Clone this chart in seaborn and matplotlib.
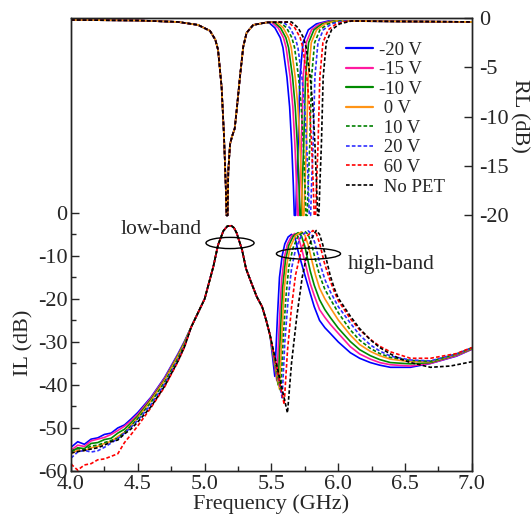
import matplotlib
matplotlib.use('Agg')
import pandas as pd
import seaborn as sns
import matplotlib.pyplot as plt
from matplotlib.patches import Ellipse
from matplotlib.lines import Line2D

#%% data
labels = ['-20 V', '-15 V', '-10 V', ' 0 V', ' 10 V', ' 20 V', ' 60 V', ' No PET']
colors = ['#0000ff', '#ff1aa0', '#008a00', '#ff9416', '#008000', '#2f2fff', '#ff0000', '#000000']
dotted = [False, False, False, False, True, True, True, True]

# IL, low-frequency skirt (per series, shared grid)
skirt_f = [4.0, 4.05, 4.1, 4.15, 4.2, 4.25, 4.3, 4.35, 4.4, 4.45, 4.5, 4.6, 4.7, 4.8, 4.85]
skirt_m20 = [-54.5, -53.2, -53.8, -52.6, -52.3, -51.5, -51.2, -50.0, -49.3, -47.9, -46.4, -42.8, -38.3, -32.8, -29.8]
skirt_m15 = [-55.2, -54.0, -54.3, -53.0, -52.6, -52.2, -51.5, -50.6, -49.6, -48.3, -46.8, -43.0, -38.5, -33.0, -30.0]
skirt_m10 = [-55.6, -54.6, -54.8, -53.6, -53.4, -52.7, -52.4, -51.2, -50.3, -48.8, -47.2, -43.3, -38.8, -33.2, -30.1]
skirt_0 = [-56.0, -55.2, -55.3, -54.6, -54.3, -53.6, -53.1, -52.0, -51.0, -49.3, -47.6, -43.6, -39.0, -33.4, -30.3]
skirt_10 = [-55.4, -54.8, -55.0, -54.2, -54.0, -53.4, -52.9, -52.4, -51.0, -49.5, -47.8, -44.0, -39.4, -33.8, -30.6]
skirt_20 = [-57.0, -55.6, -55.2, -55.6, -55.3, -54.5, -53.5, -52.5, -51.2, -49.8, -48.2, -44.5, -39.8, -34.2, -30.9]
skirt_60 = [-58.4, -59.8, -58.6, -58.3, -57.4, -57.2, -56.6, -56.0, -53.4, -51.5, -49.5, -45.2, -40.5, -34.6, -31.2]
skirt_nopet = [-55.8, -55.5, -55.2, -54.9, -54.6, -54.0, -53.2, -52.8, -51.4, -50.2, -48.6, -45.0, -40.3, -34.5, -31.1]

# IL, low band (identical for all series)
lowband_f = [4.9, 5.0, 5.065, 5.10, 5.14, 5.17, 5.20, 5.22, 5.24, 5.28, 5.31, 5.35, 5.39, 5.43, 5.46]
lowband_il = [-26.5, -20.0, -12.5, -7.5, -4.2, -3.1, -3.0, -3.5, -4.7, -8.6, -13.0, -16.3, -19.5, -21.8, -24.9]

# IL, notch + high band (freq, dB)
il_hi_m20 = [(5.49, -28.5), (5.525, -38.0), (5.545, -24.0), (5.56, -15.0), (5.58, -10.0), (5.60, -7.2), (5.625, -5.6),
             (5.65, -5.0), (5.675, -5.6), (5.70, -9.0), (5.74, -13.4), (5.79, -18.7), (5.82, -21.8), (5.86, -25.0),
             (5.90, -26.7), (5.94, -28.0), (6.0, -30.0), (6.09, -32.5), (6.16, -33.8), (6.24, -34.8), (6.31, -35.4),
             (6.39, -35.9), (6.54, -35.9), (6.69, -35.0), (6.885, -33.3), (7.0, -31.7)]
il_hi_m15 = [(5.49, -28.5), (5.54, -39.0), (5.56, -25.0), (5.575, -16.0), (5.595, -10.5), (5.62, -7.2), (5.65, -5.4),
             (5.675, -4.8), (5.70, -5.5), (5.725, -8.2), (5.76, -12.6), (5.79, -16.4), (5.82, -19.2), (5.86, -22.5),
             (5.90, -24.3), (5.94, -25.9), (6.0, -28.0), (6.09, -31.1), (6.16, -32.8), (6.24, -34.0), (6.31, -34.8),
             (6.39, -35.3), (6.54, -35.6), (6.69, -35.0), (6.885, -33.2), (7.0, -31.7)]
il_hi_m10 = [(5.49, -28.5), (5.55, -40.0), (5.57, -26.0), (5.585, -17.0), (5.605, -11.0), (5.63, -7.5), (5.665, -5.3),
             (5.70, -4.6), (5.725, -5.4), (5.75, -7.8), (5.79, -13.5), (5.82, -16.8), (5.86, -20.2), (5.90, -22.5),
             (5.94, -24.3), (6.0, -26.8), (6.09, -29.9), (6.16, -31.8), (6.24, -33.2), (6.31, -34.1),
             (6.39, -34.8), (6.54, -35.1), (6.69, -34.8), (6.885, -33.0), (7.0, -31.6)]
il_hi_0 = [(5.49, -28.5), (5.56, -41.0), (5.58, -27.0), (5.595, -18.0), (5.615, -12.0), (5.64, -8.0), (5.68, -5.3),
           (5.725, -4.4), (5.75, -5.2), (5.775, -7.5), (5.80, -10.8), (5.83, -14.5), (5.86, -17.5), (5.90, -20.0),
           (5.94, -22.0), (6.0, -24.9), (6.09, -28.4), (6.16, -30.6), (6.24, -32.2), (6.31, -33.2),
           (6.39, -34.0), (6.54, -34.6), (6.69, -34.6), (6.885, -32.9), (7.0, -31.5)]
il_hi_10 = [(5.49, -28.5), (5.57, -41.5), (5.59, -28.0), (5.61, -19.0), (5.63, -12.5), (5.66, -8.3), (5.70, -5.3),
            (5.75, -4.3), (5.775, -5.0), (5.80, -7.3), (5.83, -11.0), (5.86, -14.5), (5.90, -17.8), (5.94, -20.0),
            (6.0, -23.2), (6.09, -27.2), (6.16, -29.6), (6.24, -31.5), (6.31, -32.7),
            (6.39, -33.6), (6.54, -34.3), (6.69, -34.5), (6.885, -32.8), (7.0, -31.4)]
il_hi_20 = [(5.49, -28.5), (5.58, -43.0), (5.60, -30.0), (5.625, -20.0), (5.65, -13.0), (5.68, -8.5), (5.725, -5.2),
            (5.775, -4.2), (5.80, -4.9), (5.825, -7.0), (5.86, -11.5), (5.90, -15.5), (5.94, -18.3),
            (6.0, -21.8), (6.09, -25.6), (6.16, -28.4), (6.24, -30.7), (6.31, -32.1),
            (6.39, -33.3), (6.54, -34.2), (6.69, -34.4), (6.885, -32.8), (7.0, -31.4)]
il_hi_60 = [(5.49, -28.5), (5.595, -44.5), (5.62, -32.0), (5.65, -22.0), (5.68, -14.5), (5.72, -9.0), (5.76, -5.6),
            (5.81, -4.1), (5.835, -4.8), (5.86, -7.0), (5.895, -11.5), (5.92, -14.0), (5.94, -15.8), (5.97, -18.3),
            (6.0, -20.4), (6.09, -24.6), (6.16, -27.2), (6.24, -29.4), (6.31, -31.0),
            (6.39, -32.3), (6.54, -33.8), (6.69, -33.8), (6.885, -32.7), (7.0, -31.3)]
il_hi_nopet = [(5.49, -28.5), (5.62, -46.5), (5.65, -35.0), (5.69, -24.0), (5.73, -15.0), (5.77, -9.0), (5.80, -6.0),
               (5.835, -4.1), (5.86, -5.0), (5.885, -7.5), (5.92, -12.0), (5.94, -14.6), (5.97, -17.5),
               (6.0, -19.8), (6.09, -24.0), (6.16, -26.9), (6.24, -29.5), (6.31, -31.3), (6.39, -32.8),
               (6.46, -33.9), (6.54, -34.8), (6.69, -35.9), (6.84, -35.6), (7.0, -34.6)]

# RL, low band dip (identical for all series)
rl_low = [(4.0, -0.2), (4.5, -0.25), (4.8, -0.4), (4.95, -0.7), (5.04, -1.3), (5.08, -2.2), (5.10, -3.2), (5.127, -7.0),
          (5.145, -12.0), (5.158, -17.0), (5.164, -20.0), (5.172, -20.0), (5.177, -15.5), (5.19, -12.8), (5.205, -12.0),
          (5.225, -11.2), (5.24, -9.3), (5.264, -6.0), (5.289, -2.9), (5.314, -1.5), (5.364, -0.7), (5.464, -0.45)]

# RL, high band dip (freq, dB)
rl_hi_m20 = [(5.476, -0.4), (5.526, -1.0), (5.566, -2.0), (5.586, -3.0), (5.616, -6.0), (5.636, -9.0), (5.651, -12.7),
             (5.664, -17.0), (5.671, -20.0), (5.681, -20.0), (5.688, -17.0), (5.70, -12.7), (5.713, -6.0),
             (5.736, -2.5), (5.776, -1.2), (5.836, -0.6), (5.926, -0.3)]
rl_hi_m15 = [(5.50, -0.4), (5.55, -1.0), (5.59, -2.0), (5.61, -3.0), (5.64, -6.0), (5.66, -9.0), (5.675, -12.7),
             (5.688, -17.0), (5.695, -20.0), (5.705, -20.0), (5.712, -17.0), (5.724, -12.7), (5.737, -6.0),
             (5.76, -2.5), (5.80, -1.2), (5.86, -0.6), (5.95, -0.3)]
rl_hi_m10 = [(5.518, -0.4), (5.568, -1.0), (5.608, -2.0), (5.628, -3.0), (5.658, -6.0), (5.678, -9.0), (5.693, -12.7),
             (5.706, -17.0), (5.713, -20.0), (5.723, -20.0), (5.730, -17.0), (5.742, -12.7), (5.755, -6.0),
             (5.778, -2.5), (5.818, -1.2), (5.878, -0.6), (5.968, -0.3)]
rl_hi_0 = [(5.538, -0.4), (5.588, -1.0), (5.628, -2.0), (5.648, -3.0), (5.678, -6.0), (5.698, -9.0), (5.713, -12.7),
           (5.726, -17.0), (5.733, -20.0), (5.743, -20.0), (5.750, -17.0), (5.762, -12.7), (5.775, -6.0),
           (5.798, -2.5), (5.838, -1.2), (5.898, -0.6), (5.988, -0.3)]
rl_hi_10 = [(5.563, -0.4), (5.613, -1.0), (5.653, -2.0), (5.673, -3.0), (5.703, -6.0), (5.723, -9.0), (5.738, -12.7),
            (5.751, -17.0), (5.758, -20.0), (5.768, -20.0), (5.775, -17.0), (5.787, -12.7), (5.800, -6.0),
            (5.823, -2.5), (5.863, -1.2), (5.923, -0.6), (6.013, -0.3)]
rl_hi_20 = [(5.588, -0.4), (5.638, -1.0), (5.678, -2.0), (5.698, -3.0), (5.728, -6.0), (5.748, -9.0), (5.763, -12.7),
            (5.776, -17.0), (5.783, -20.0), (5.793, -20.0), (5.800, -17.0), (5.812, -12.7), (5.825, -6.0),
            (5.848, -2.5), (5.888, -1.2), (5.948, -0.6), (6.038, -0.3)]
rl_hi_60 = [(5.625, -0.4), (5.675, -1.0), (5.715, -2.0), (5.735, -3.0), (5.765, -6.0), (5.785, -9.0), (5.800, -12.7),
            (5.813, -17.0), (5.820, -20.0), (5.830, -20.0), (5.837, -17.0), (5.849, -12.7), (5.862, -6.0),
            (5.885, -2.5), (5.925, -1.2), (5.985, -0.6), (6.075, -0.3)]
rl_hi_nopet = [(5.65, -0.4), (5.70, -1.0), (5.74, -2.0), (5.76, -3.0), (5.79, -6.0), (5.81, -9.0), (5.825, -12.7),
               (5.838, -17.0), (5.845, -20.0), (5.855, -20.0), (5.862, -17.0), (5.874, -12.7), (5.887, -6.0),
               (5.91, -2.5), (5.95, -1.2), (6.01, -0.6), (6.10, -0.3)]
rl_tail = [(6.5, -0.35), (7.0, -0.4)]

skirts = [skirt_m20, skirt_m15, skirt_m10, skirt_0, skirt_10, skirt_20, skirt_60, skirt_nopet]
il_highs = [il_hi_m20, il_hi_m15, il_hi_m10, il_hi_0, il_hi_10, il_hi_20, il_hi_60, il_hi_nopet]
rl_highs = [rl_hi_m20, rl_hi_m15, rl_hi_m10, rl_hi_0, rl_hi_10, rl_hi_20, rl_hi_60, rl_hi_nopet]

#%% long-form tables
il_rows, rl_rows = [], []
for lab, sk, hi, rh in zip(labels, skirts, il_highs, rl_highs):
    for f, v in list(zip(skirt_f, sk)) + list(zip(lowband_f, lowband_il)) + hi:
        il_rows.append((lab, f, v))
    for f, v in rl_low + rh + rl_tail:
        rl_rows.append((lab, f, v))
df_il = pd.DataFrame(il_rows, columns=['V', 'freq', 'dB'])
df_rl = pd.DataFrame(rl_rows, columns=['V', 'freq', 'dB'])

pal = dict(zip(labels, colors))
dsh = {l: ((2.2, 1.3) if d else '') for l, d in zip(labels, dotted)}

#%% plot
sns.set_style('ticks')
plt.rcParams['font.family'] = ['Liberation Serif', 'DejaVu Serif']
plt.rcParams['axes.unicode_minus'] = False

fig = plt.figure(figsize=(5.32, 5.14), dpi=100)
ax = fig.add_axes([0.1335, 0.0837, 0.7535, 0.8813])
sns.lineplot(data=df_il, x='freq', y='dB', hue='V', style='V', hue_order=labels, style_order=labels,
             palette=pal, dashes=dsh, linewidth=1.2, estimator=None, legend=False, ax=ax)
ax2 = ax.twinx()
sns.lineplot(data=df_rl, x='freq', y='dB', hue='V', style='V', hue_order=labels, style_order=labels,
             palette=pal, dashes=dsh, linewidth=1.2, estimator=None, legend=False, ax=ax2)

ax.set_xlim(4.0, 7.0)
ax.set_ylim(-60, 45.3)
ax2.set_ylim(-45.9, 0)
ax.set_xticks([4.0, 4.5, 5.0, 5.5, 6.0, 6.5, 7.0])
ax.set_xticks([4.25, 4.75, 5.25, 5.75, 6.25, 6.75], minor=True)
ax.set_yticks(list(range(-60, 1, 10)))
ax.set_yticks(list(range(-55, 0, 10)), minor=True)
ax2.set_yticks([0, -5, -10, -15, -20])

for a in (ax, ax2):
    a.tick_params(which='major', direction='in', length=6, width=1, labelsize=16)
    a.tick_params(which='minor', direction='in', length=3.5, width=1)
    for s in a.spines.values():
        s.set_linewidth(1.0)
        s.set_color('#222222')
ax.tick_params(axis='y', pad=2.5)
ax.tick_params(axis='x', pad=3, top=False)
ax2.tick_params(axis='y', pad=5)

ax.set_xlabel('Frequency (GHz)', fontsize=16, labelpad=0)
ax.set_ylabel('IL (dB)', fontsize=16)
ax.yaxis.set_label_coords(-0.093, 0.283)
ax2.set_ylabel('RL (dB)', fontsize=16, rotation=270, va='bottom')
ax2.yaxis.set_label_coords(1.093, 0.784)

ax.text(4.673, -3.95, 'low-band', ha='center', va='center', fontsize=15.5)
ax.text(6.394, -12.1, 'high-band', ha='center', va='center', fontsize=15.5)
ax.add_patch(Ellipse((5.19, -7.0), 0.36, 2.6, fill=False, lw=1.0, ec='black', zorder=5))
ax.add_patch(Ellipse((5.777, -9.5), 0.48, 2.6, fill=False, lw=1.0, ec='black', zorder=5))

handles = [Line2D([], [], color=c, lw=1.6 if not d else 1.2, dashes=(2.2, 1.3) if d else (None, None))
           for c, d in zip(colors, dotted)]
ax2.legend(handles, labels, loc='upper left', bbox_to_anchor=(0.686, 0.948), frameon=False, fontsize=13.5,
           handlelength=1.45, handletextpad=0.3, labelspacing=0.13, borderpad=0, borderaxespad=0)

fig.savefig('out.png', dpi=100)
